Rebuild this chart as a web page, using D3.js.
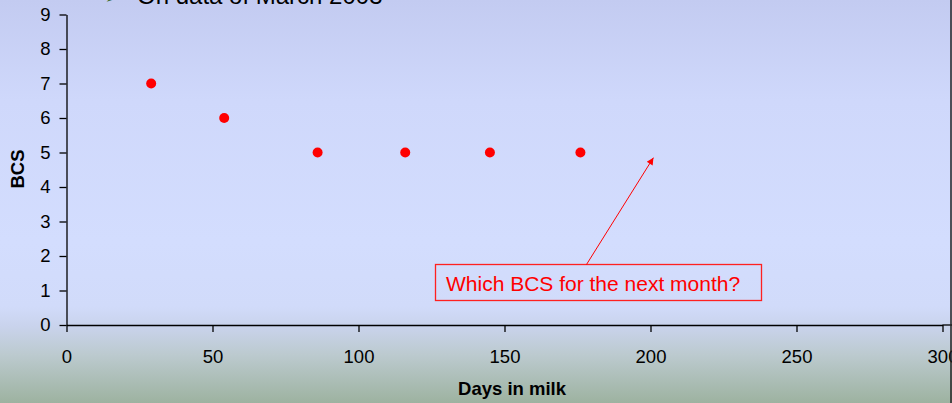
<!DOCTYPE html>
<html>
<head>
<meta charset="utf-8">
<script src="https://cdn.jsdelivr.net/npm/d3@7"></script>
<style>
  html, body { margin: 0; padding: 0; background: #fff; }
  svg { display: block; font-family: "Liberation Sans", Arial, sans-serif; }
</style>
</head>
<body>
<svg id="chart" width="952" height="403"></svg>
<script>
// ---- data ----
const daysInMilk = [29, 54, 86, 116, 145, 176];
const bcsValues  = [7, 6, 5, 5, 5, 5];
const xTicks = [0, 50, 100, 150, 200, 250, 300];
const yTicks = [0, 1, 2, 3, 4, 5, 6, 7, 8, 9];
const title = "On data of March 2003";
const xLabel = "Days in milk";
const yLabel = "BCS";
const annotation = "Which BCS for the next month?";
const annotationTarget = [201, 4.85]; // arrow tip in data units

const W = 952, H = 403;
const svg = d3.select("#chart");

// background gradient
const defs = svg.append("defs");
const grad = defs.append("linearGradient").attr("id", "bg")
  .attr("x1", 0).attr("y1", 0).attr("x2", 0).attr("y2", 1);
[[0, "#c3cbf1"], [0.25, "#cfd8fb"], [0.6, "#d3ddfe"], [0.76, "#d1dbfa"], [0.81, "#c9d3ec"],
 [0.88, "#bccacf"], [1, "#9db2a0"]]
  .forEach(([o, c]) => grad.append("stop").attr("offset", o).attr("stop-color", c));
svg.append("rect").attr("width", W).attr("height", H).attr("fill", "url(#bg)");

const x = d3.scaleLinear().domain([0, 300]).range([66.5, 942.5]);
const y = d3.scaleLinear().domain([0, 9]).range([325, 14.5]);

// title (partially cut off at top)
svg.append("text").attr("x", 104).attr("y", 4).attr("font-size", 24)
  .attr("fill", "#3a6b2a").text("\u27A2");
svg.append("text").attr("x", 137).attr("y", 4).attr("font-size", 24)
  .attr("fill", "#000").text(title);

// axes
const xAxis = svg.append("g").attr("transform", `translate(0,${y(0)})`)
  .call(d3.axisBottom(x).tickValues(xTicks).tickSize(7).tickSizeOuter(0).tickPadding(18));
const yAxis = svg.append("g").attr("transform", `translate(${x(0)},0)`)
  .call(d3.axisLeft(y).tickValues(yTicks).tickSize(7).tickSizeOuter(0).tickPadding(9));
[xAxis, yAxis].forEach(g => {
  g.selectAll("path, line").attr("stroke", "#000").attr("stroke-width", 1.3);
  g.selectAll("text").attr("font-size", 18.5).attr("fill", "#000")
    .attr("font-family", "'Liberation Sans', Arial, sans-serif");
});
// extend x-axis line to right edge
svg.append("line").attr("x1", x(300)).attr("x2", W).attr("y1", y(0)).attr("y2", y(0))
  .attr("stroke", "#000").attr("stroke-width", 1.3);
// right border
svg.append("line").attr("x1", W - 1).attr("x2", W - 1).attr("y1", 0).attr("y2", H)
  .attr("stroke", "#222").attr("stroke-width", 1.5);

// axis titles
svg.append("text").attr("x", 512).attr("y", 395).attr("text-anchor", "middle")
  .attr("font-size", 18.5).attr("font-weight", "bold").text(xLabel);
svg.append("text").attr("transform", "translate(24,169) rotate(-90)")
  .attr("text-anchor", "middle").attr("font-size", 18.5).attr("font-weight", "bold").text(yLabel);

// points
svg.append("g").selectAll("circle").data(daysInMilk).join("circle")
  .attr("cx", d => x(d)).attr("cy", (d, i) => y(bcsValues[i])).attr("r", 5).attr("fill", "#ff0000");

// annotation box
const box = { x0: 435.5, y0: 264.5, x1: 761.5, y1: 300.5 };
svg.append("rect").attr("x", box.x0).attr("y", box.y0)
  .attr("width", box.x1 - box.x0).attr("height", box.y1 - box.y0)
  .attr("fill", "none").attr("stroke", "#ff2020").attr("stroke-width", 1.3);
svg.append("text").attr("x", 446).attr("y", 291).attr("font-size", 21)
  .attr("fill", "#ff0000").text(annotation);

// arrow
defs.append("marker").attr("id", "ah").attr("viewBox", "0 0 10 10")
  .attr("refX", 10).attr("refY", 5).attr("markerWidth", 9).attr("markerHeight", 7)
  .attr("markerUnits", "userSpaceOnUse").attr("orient", "auto")
  .append("path").attr("d", "M0,0 L10,5 L0,10 Z").attr("fill", "#ff0000");
svg.append("line").attr("x1", 586.5).attr("y1", box.y0)
  .attr("x2", x(annotationTarget[0])).attr("y2", y(annotationTarget[1]))
  .attr("stroke", "#ff0000").attr("stroke-width", 1).attr("marker-end", "url(#ah)");
</script>
</body>
</html>
